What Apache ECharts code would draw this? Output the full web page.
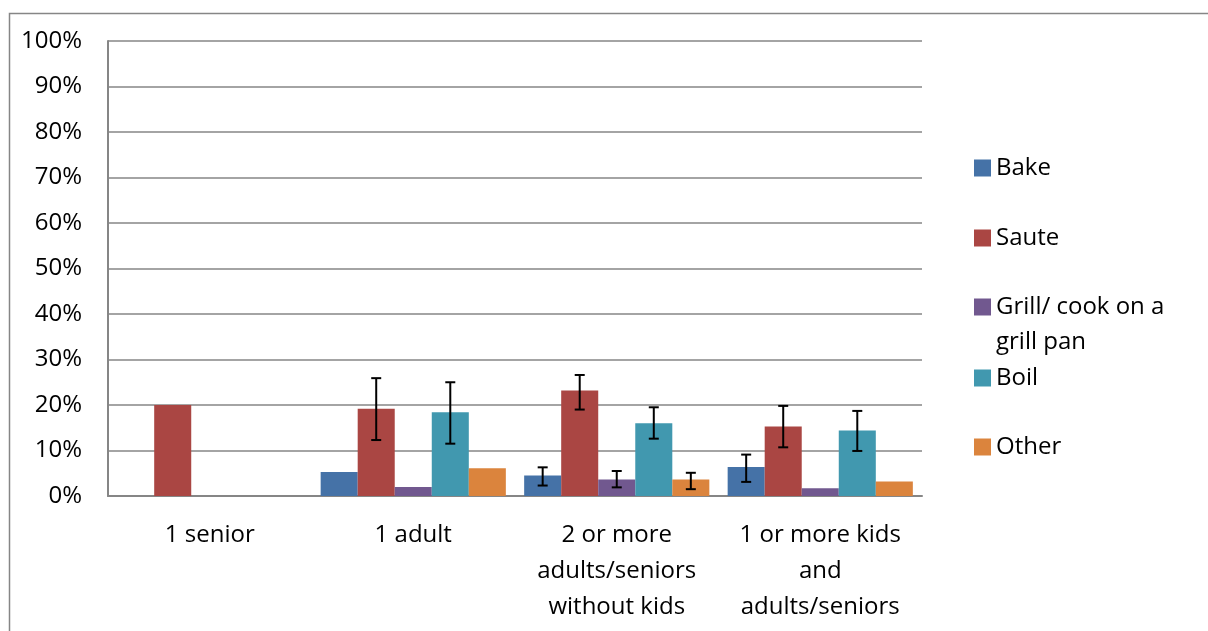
<!DOCTYPE html>
<html>
<head>
<meta charset="utf-8">
<script src="https://cdn.jsdelivr.net/npm/echarts@6/dist/echarts.min.js"></script>
<style>
html,body{margin:0;padding:0;background:#fff;}
#chart{width:1208px;height:631px;}
</style>
</head>
<body>
<div id="chart"></div>
<script>
// ---- data ----
const categories = ['1 senior', '1 adult', '2 or more adults/seniors without kids', '1 or more kids and adults/seniors'];
const categoryLabels = ['1 senior', '1 adult', '2 or more\nadults/seniors\nwithout kids', '1 or more kids\nand\nadults/seniors'];
const seriesNames = ['Bake', 'Saute', 'Grill/ cook on a grill pan', 'Boil', 'Other'];
const legendLines = [['Bake'], ['Saute'], ['Grill/ cook on a', 'grill pan'], ['Boil'], ['Other']];
const bake  = [0, 5.3, 4.5, 6.4];
const saute = [20, 19.2, 23.2, 15.3];
const grill = [0, 2.0, 3.6, 1.7];
const boil  = [0, 18.4, 16.0, 14.4];
const other = [0, 6.1, 3.6, 3.2];
// error bar bounds [low, high] per category (null = no error bar)
const bakeErr  = [null, null, [2.3, 6.3], [3.1, 9.1]];
const sauteErr = [null, [12.3, 25.9], [19.0, 26.6], [10.7, 19.8]];
const grillErr = [null, null, [1.9, 5.5], null];
const boilErr  = [null, [11.5, 25.0], [12.6, 19.5], [9.9, 18.7]];
const otherErr = [null, null, [1.5, 5.1], null];
const yTicks = [0, 10, 20, 30, 40, 50, 60, 70, 80, 90, 100];

// ---- styling ----
const colors = ['#4572A7', '#AA4643', '#71588F', '#4198AF', '#DB843D'];
const FONT = '"Open Sans", "Noto Sans", sans-serif';
const FS = 24;
const GAP_RATIO = 0.09;

const values = [bake, saute, grill, boil, other];
const errs = [bakeErr, sauteErr, grillErr, boilErr, otherErr];

const series = [];
values.forEach((v, i) => {
  series.push({
    name: seriesNames[i],
    type: 'bar',
    data: v,
    barGap: 0,
    barCategoryGap: (GAP_RATIO * 100) + '%',
    itemStyle: { color: colors[i] },
    emphasis: { disabled: true },
    z: 2
  });
});
errs.forEach((e, i) => {
  const d = [];
  e.forEach((b, c) => { if (b) d.push([c, b[0], b[1]]); });
  series.push({
    name: seriesNames[i] + ' error',
    type: 'custom',
    data: d,
    z: 5,
    encode: { x: 0, y: [1, 2] },
    renderItem: function (params, api) {
      const c = api.value(0);
      const lo = api.coord([c, api.value(1)]);
      const hi = api.coord([c, api.value(2)]);
      const band = api.size([1, 0])[0];
      const bw = band * (1 - GAP_RATIO) / 5;
      const x = lo[0] + (i - 2) * bw;
      const cap = 5;
      const st = { stroke: '#000', lineWidth: 2 };
      return {
        type: 'group',
        children: [
          { type: 'line', shape: { x1: x, y1: lo[1], x2: x, y2: hi[1] }, style: st },
          { type: 'line', shape: { x1: x - cap, y1: lo[1], x2: x + cap, y2: lo[1] }, style: st },
          { type: 'line', shape: { x1: x - cap, y1: hi[1], x2: x + cap, y2: hi[1] }, style: st }
        ]
      };
    }
  });
});

// legend layout (icon centre y for each entry)
const legendLeft = 974;
const legendCenters = [166, 236, 305, 376, 445];
const legends = seriesNames.map((n, i) => ({
  data: [n],
  left: legendLeft,
  top: legendCenters[i] - 10,
  orient: 'vertical',
  padding: 0,
  itemWidth: 17,
  itemHeight: 17,
  itemGap: 0,
  icon: 'rect',
  selectedMode: false,
  formatter: function () { return legendLines[i][0]; },
  textStyle: { fontFamily: FONT, fontSize: FS, color: '#000', lineHeight: 24 }
}));
// continuation lines of wrapped legend entries
const legendGraphics = [];
legendLines.forEach((lines, i) => {
  lines.slice(1).forEach((t, k) => {
    legendGraphics.push({
      type: 'text',
      left: legendLeft + 22,
      top: legendCenters[i] + 35 * (k + 1) - 10,
      style: { text: t, font: FS + 'px ' + FONT, fill: '#000', lineHeight: 24 }
    });
  });
});

const chart = echarts.init(document.getElementById('chart'), null, { renderer: 'canvas' });
chart.setOption({
  animation: false,
  color: colors,
  backgroundColor: '#fff',
  graphic: [{
    type: 'rect',
    shape: { x: 9.5, y: 13.5, width: 1400, height: 800 },
    style: { fill: 'none', stroke: '#868686', lineWidth: 1.5 },
    z: -1
  }].concat(legendGraphics),
  legend: legends,
  grid: { left: 108, top: 41, right: 286, bottom: 135, containLabel: false },
  xAxis: {
    type: 'category',
    data: categories,
    axisLine: { show: true, lineStyle: { color: '#868686', width: 2 } },
    axisTick: { show: false },
    axisLabel: {
      interval: 0,
      margin: 21,
      fontFamily: FONT,
      fontSize: FS,
      color: '#000',
      lineHeight: 36,
      formatter: function (v, idx) { return categoryLabels[idx]; }
    }
  },
  yAxis: {
    type: 'value',
    min: yTicks[0],
    max: yTicks[yTicks.length - 1],
    interval: yTicks[1] - yTicks[0],
    axisLine: { show: true, lineStyle: { color: '#868686', width: 2 } },
    axisTick: { show: false },
    splitLine: { show: true, lineStyle: { color: '#868686', width: 1.5 } },
    axisLabel: {
      margin: 26,
      fontFamily: FONT,
      fontSize: FS,
      color: '#000',
      formatter: '{value}%'
    }
  },
  series: series
});
</script>
</body>
</html>
